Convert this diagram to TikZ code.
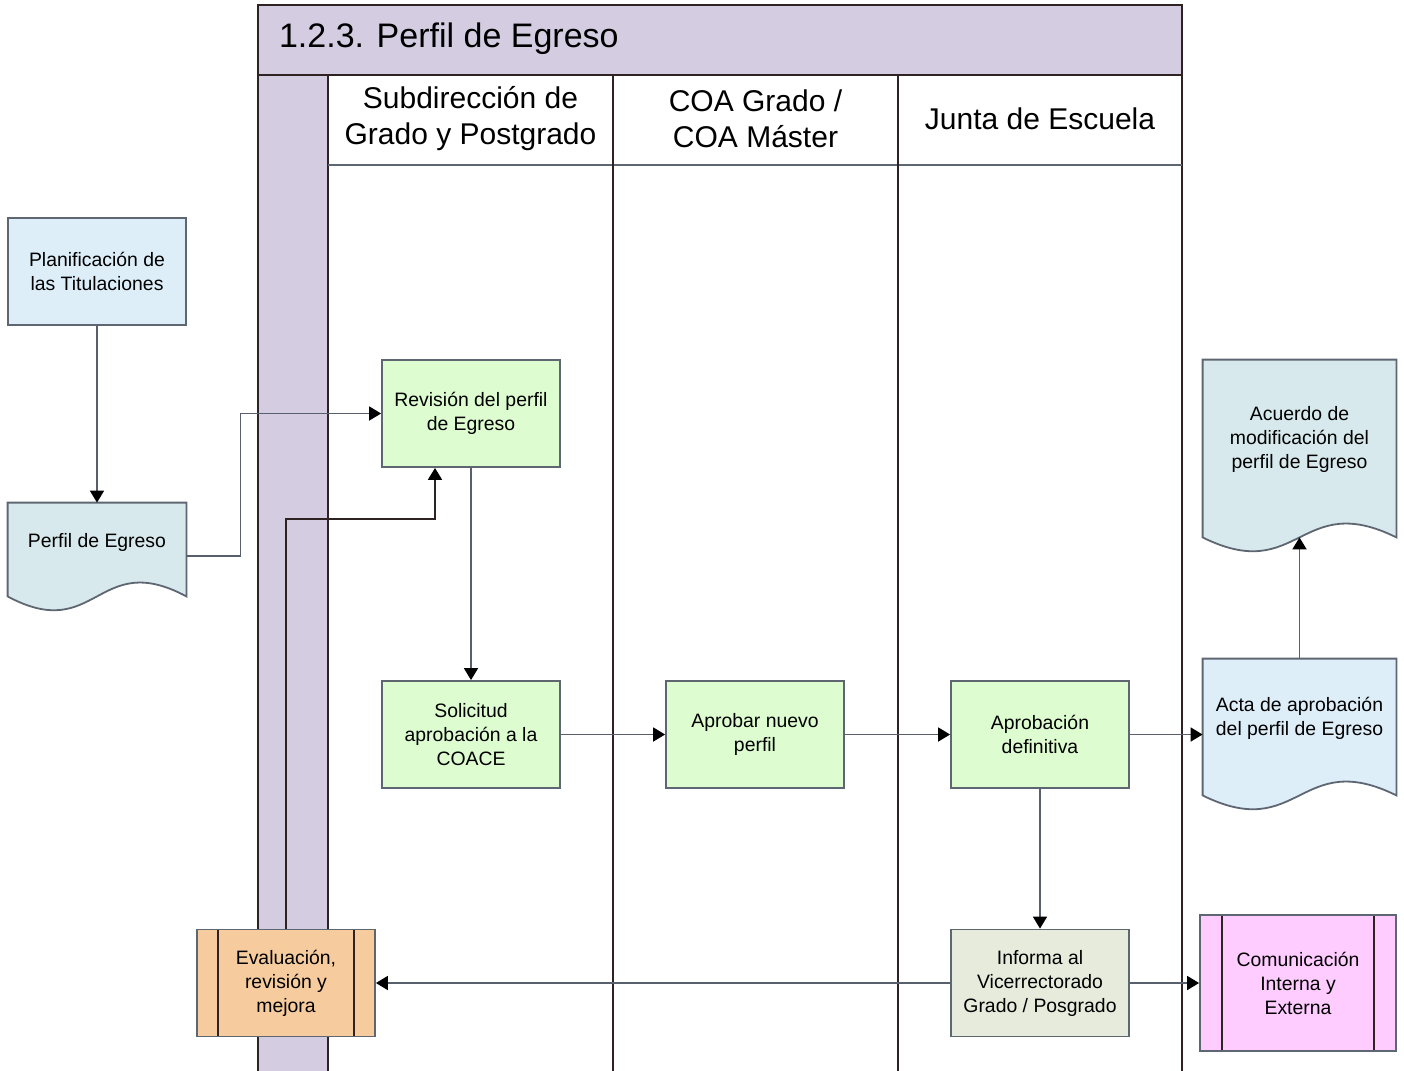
\documentclass[tikz,border=0pt]{standalone}
\usepackage{fontspec}
\setmainfont{Liberation Sans}
\usetikzlibrary{arrows.meta,backgrounds}

\definecolor{lanefill}{RGB}{212,204,224}
\definecolor{laneline}{RGB}{46,34,34}
\definecolor{boxline}{RGB}{94,102,114}
\definecolor{connline}{RGB}{88,96,108}
\definecolor{bluefill}{RGB}{221,238,249}
\definecolor{docfill}{RGB}{215,233,236}
\definecolor{greenfill}{RGB}{221,252,208}
\definecolor{greyfill}{RGB}{230,235,220}
\definecolor{orangefill}{RGB}{246,204,158}
\definecolor{pinkfill}{RGB}{255,204,255}

\tikzset{
	box/.style={draw=boxline, line width=0.9pt, minimum width=89pt, minimum height=53.5pt,
		inner sep=2pt, align=center, font=\fontsize{9.7}{12}\selectfont},
	docnode/.style={minimum width=96.5pt, inner sep=2pt, align=center, font=\fontsize{9.7}{12}\selectfont},
	sidebars/.style={path picture={
		\draw[draw=laneline, line width=0.75pt] ([xshift=#1]path picture bounding box.north west) -- ([xshift=#1]path picture bounding box.south west);
		\draw[draw=laneline, line width=0.75pt] ([xshift=-#1]path picture bounding box.north east) -- ([xshift=-#1]path picture bounding box.south east);}},
	lanehead/.style={align=center, font=\fontsize{15}{18}\selectfont},
	conn/.style={draw=connline, line width=0.9pt, -{Triangle[length=6pt,width=7pt,color=black]}},
}

% document shape: sides run #3 below the node, wavy bottom
\newcommand\docshape[3]{%
	\draw[fill=#2, draw=boxline, line width=0.9pt] ([yshift=-#3]#1.south west) -- (#1.north west) -- (#1.north east) -- ([yshift=-#3]#1.south east)
	.. controls ([yshift=24pt-#3]#1.south) and ([yshift=-24pt-#3]#1.south) .. ([yshift=-#3]#1.south west) -- cycle;}

\begin{document}
\begin{tikzpicture}[x=0.5pt,y=-0.5pt]
		\useasboundingbox (0,0) rectangle (1404,1071);
		% pool
		\fill[lanefill] (258,5) rectangle (1182,75);
		\fill[lanefill] (258,75) rectangle (328,1071);
		\draw[laneline, line width=1pt] (258,1071) -- (258,5) -- (1182,5) -- (1182,1071);
		\draw[laneline, line width=1pt] (258,75) -- (1182,75);
		\draw[laneline, line width=1pt] (328,75) -- (328,1071);
		\draw[boxline, line width=1pt] (328,165) -- (1182,165);
		\foreach \x in {613,898} % lanes
		\draw[laneline, line width=1pt] (\x,75) -- (\x,1071);
		\node[anchor=west, font=\fontsize{17}{20}\selectfont] (title) at (272,39) {1.2.3. Perfil de Egreso};
		\node[lanehead] (hsub) at (470.5,119) {Subdirección de\\Grado y Postgrado};
		\node[lanehead] (hcoa) at (755.5,119) {COA Grado /\\COA Máster};
		\node[lanehead] (hjunta) at (1040,119) {Junta de Escuela};
		
		% nodes
		\node[box, fill=bluefill] (planif) at (97,271.5) {Planificación de\\las Titulaciones};
		\node[docnode, minimum width=89pt, minimum height=39pt] (perfil) at (97,542) {Perfil de Egreso};
		\node[box, fill=greenfill] (revision) at (471,413.5) {Revisión del perfil\\de Egreso};
		\node[box, fill=greenfill] (solicitud) at (471,734.5) {Solicitud\\aprobación a la\\COACE};
		\node[box, fill=greenfill] (aprobar) at (755,734.5) {Aprobar nuevo\\perfil};
		\node[box, fill=greenfill] (definitiva) at (1040,734.5) {Aprobación\\definitiva};
		\node[docnode, minimum height=59pt] (acta) at (1299.5,718) {Acta de aprobación\\del perfil de Egreso};
		\node[docnode, minimum height=79pt] (acuerdo) at (1299.5,439) {Acuerdo de\\modificación del\\perfil de Egreso};
		\node[box, fill=greyfill] (informa) at (1040,983) {Informa al\\Vicerrectorado\\Grado / Posgrado};
		\node[box, fill=orangefill, sidebars=10.5pt] (evalua) at (286,983) {Evaluación,\\revisión y\\mejora};
		\node[box, fill=pinkfill, minimum width=98pt, minimum height=68pt, sidebars=11pt] (comunica) at (1298,983) {Comunicación\\Interna y\\Externa};
		
		% documents
		\begin{scope}[on background layer]
		\docshape{perfil}{docfill}{7.5pt}
		\docshape{acta}{bluefill}{9pt}
		\docshape{acuerdo}{docfill}{9.5pt}
		\end{scope}
		
		% flow
		\draw[conn] (planif) -- (perfil);
		\draw[conn] ([yshift=-7pt]perfil.east) -- ++(54,0) |- (revision);
		\draw[conn, draw=laneline] (evalua.north) -- ++(0,-410) -| ([xshift=-18pt]revision.south);
		\draw[conn] (revision) -- (solicitud);
		\draw[conn] (solicitud) -- (aprobar);
		\draw[conn] (aprobar) -- (definitiva);
		\draw[conn] (definitiva) -- (definitiva -| acta.west);
		\draw[conn] (acta) -- ([yshift=-9.5pt]acuerdo.south);
		\draw[conn] (definitiva) -- (informa);
		\draw[conn] (informa) -- (evalua);
		\draw[conn] (informa) -- (comunica);
\end{tikzpicture}
\end{document}
